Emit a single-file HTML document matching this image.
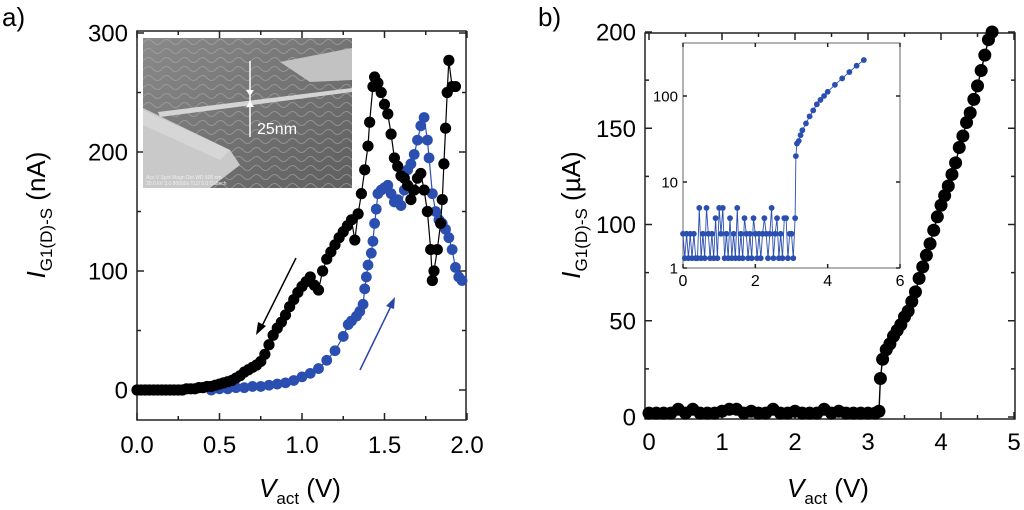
<!DOCTYPE html>
<html><head><meta charset="utf-8"><style>
html,body{margin:0;padding:0;background:#fff}
svg{display:block;font-family:"Liberation Sans",sans-serif}
</style></head><body>
<svg id="fig" width="1024" height="510" viewBox="0 0 1024 510">
<defs>
<linearGradient id="semBg" x1="0" y1="0" x2="1" y2="1"><stop offset="0" stop-color="#8a8a8a"/><stop offset="1" stop-color="#5e5e5e"/></linearGradient>
<pattern id="waves" width="18" height="9" patternUnits="userSpaceOnUse"><path d="M0 6 Q4.5 1 9 6 T18 6" stroke="#aaa" stroke-width="1" fill="none"/></pattern>
</defs>
<text x="2" y="26" font-size="26">a)</text>
<g><rect x="137" y="31" width="329" height="389" fill="none" stroke="#222" stroke-width="1.5"/></g>
<g id="ticksA"></g>
<g id="sem">
<rect x="143" y="38" width="209" height="150" fill="url(#semBg)"/>
<rect x="143" y="38" width="209" height="150" fill="url(#waves)" opacity="0.6"/>
<polygon points="143,108 143,188 210,188 240,165 230,150" fill="#c9c9c9"/>
<polygon points="143,110 230,150 220,160 143,125" fill="#e0e0e0" opacity="0.6"/>
<polygon points="280,62 352,48 352,80 310,82" fill="#c2c2c2"/>
<polygon points="158,112 352,88 352,92 160,117" fill="#d4d4d4"/>
<line x1="250" y1="61" x2="250" y2="137" stroke="#fff" stroke-width="1.5"/>
<polygon points="246,90 254,90 250,96" fill="#fff"/><polygon points="246,107 254,107 250,101" fill="#fff"/>
<text x="257" y="134" font-size="16" fill="#fff">25nm</text>
<text x="146" y="179" font-size="5" fill="#eee">Acc.V  Spot Magn   Det WD          500 nm</text>
<text x="146" y="185" font-size="5" fill="#eee">20.0 kV 3.0  80000x  TLD 5.0  Caltech</text>
</g>
<g id="seriesA"></g>
<line x1="296" y1="258" x2="260" y2="330" stroke="#000" stroke-width="1.5"/>
<polygon points="256,335 258,322 266,326" fill="#000"/>
<line x1="360" y1="370" x2="392" y2="304" stroke="#2b45a8" stroke-width="1.5"/>
<polygon points="395,297 386,306 394,309" fill="#2b45a8"/>
<g transform="translate(45,215) rotate(-90)">
<text x="0" y="0" font-size="26" text-anchor="middle"><tspan font-style="italic">I</tspan><tspan font-size="17" dy="7">G1(D)-S</tspan><tspan dy="-7">  (nA)</tspan></text></g>
<text x="300" y="497" font-size="26" text-anchor="middle"><tspan font-style="italic">V</tspan><tspan font-size="17" dy="7">act</tspan><tspan dy="-7">  (V)</tspan></text>
<text x="538" y="26" font-size="26">b)</text>
<g><rect x="645" y="33" width="370" height="386" fill="none" stroke="#222" stroke-width="1.5"/></g>
<g id="ticksB"></g>
<g id="seriesB"></g>
<rect x="683" y="43" width="217" height="225" fill="#fff" stroke="#666" stroke-width="1"/>
<g id="ticksI"></g>
<g id="seriesI"></g>
<g transform="translate(580,215) rotate(-90)">
<text x="0" y="0" font-size="26" text-anchor="middle"><tspan font-style="italic">I</tspan><tspan font-size="17" dy="7">G1(D)-S</tspan><tspan dy="-7">  (µA)</tspan></text></g>
<text x="828" y="497" font-size="26" text-anchor="middle"><tspan font-style="italic">V</tspan><tspan font-size="17" dy="7">act</tspan><tspan dy="-7">  (V)</tspan></text>
</svg>
<script>
const voltsABack=[0,0.025,0.05,0.075,0.1,0.125,0.15,0.175,0.2,0.225,0.25,0.275,0.3,0.325,0.35,0.375,0.4,0.425,0.45,0.475,0.5,0.525,0.55,0.575,0.6,0.625,0.65,0.675,0.7,0.725,0.75,0.775,0.8,0.825,0.85,0.875,0.9,0.925,0.95,0.975,1.0,1.025,1.05,1.075,1.1,1.125,1.15,1.175,1.2,1.225,1.25,1.275,1.3,1.32,1.34,1.36,1.38,1.40,1.41,1.43,1.44,1.46,1.48,1.50,1.52,1.54,1.56,1.58,1.60,1.62,1.64,1.66,1.68,1.70,1.72,1.74,1.76,1.78,1.79,1.80,1.82,1.84,1.85,1.86,1.87,1.88,1.89,1.91,1.93];
const currentABack=[0,0,0,0,0,0,0,0,0,0,0,0,1,1,1,2,2,3,3,4,5,6,7,8,10,12,15,17,19,21,24,30,38,46,52,57,63,70,76,82,87,91,95,88,84,100,110,116,122,128,133,138,143,126,148,165,185,205,225,255,263,258,250,240,232,215,195,188,180,178,172,160,168,178,182,168,150,118,92,100,118,140,160,190,220,250,277,255,255];
const voltsAFwd=[0.45,0.5,0.55,0.6,0.65,0.7,0.75,0.8,0.85,0.9,0.95,1.0,1.05,1.1,1.15,1.2,1.25,1.28,1.3,1.33,1.35,1.37,1.38,1.39,1.40,1.42,1.43,1.44,1.45,1.46,1.48,1.50,1.52,1.54,1.56,1.58,1.60,1.62,1.64,1.66,1.68,1.70,1.72,1.74,1.76,1.77,1.79,1.81,1.83,1.85,1.87,1.89,1.91,1.93,1.95,1.97];
const currentAFwd=[0,1,1,2,2,3,3,4,5,6,8,11,14,18,25,33,45,55,58,62,66,72,85,95,105,115,125,140,152,165,168,170,172,165,158,160,155,168,185,190,198,210,222,229,210,195,165,150,143,140,135,128,118,103,95,92];
const ticksAx=[0,0.5,1.0,1.5,2.0];
const minorAx=[0.25,0.75,1.25,1.75];
const ticksAy=[0,100,200,300];
const minorAy=[50,150,250];
const voltsB=[0,0.1,0.2,0.3,0.4,0.5,0.6,0.7,0.8,0.9,1.0,1.1,1.2,1.3,1.4,1.5,1.6,1.7,1.8,1.9,2.0,2.1,2.2,2.3,2.4,2.5,2.6,2.7,2.8,2.9,3.0,3.1,3.15,3.17,3.2,3.25,3.3,3.35,3.4,3.45,3.5,3.55,3.6,3.65,3.7,3.75,3.8,3.85,3.9,3.95,4.0,4.05,4.1,4.15,4.2,4.25,4.3,4.35,4.4,4.45,4.5,4.55,4.6,4.65,4.7];
const currentB=[2,2,2,2,4,2,4,2,2,2,3,4,4,2,3,2,2,4,2,2,3,2,2,2,4,2,3,2,2,2,2,2,3,20,30,35,38,42,45,48,52,55,60,65,72,78,84,90,97,104,110,115,120,126,132,140,146,153,158,165,172,180,188,196,200];
const ticksBx=[0,1,2,3,4,5];
const minorBx=[0.5,1.5,2.5,3.5,4.5];
const ticksBy=[0,50,100,150,200];
const minorBy=[25,75,125,175];
const voltsIn=[0,0.05,0.1,0.15,0.2,0.25,0.3,0.35,0.4,0.45,0.5,0.55,0.6,0.65,0.7,0.75,0.8,0.85,0.9,0.95,1.0,1.05,1.1,1.15,1.2,1.25,1.3,1.35,1.4,1.45,1.5,1.55,1.6,1.65,1.7,1.75,1.8,1.85,1.9,1.95,2.0,2.05,2.1,2.15,2.2,2.25,2.3,2.35,2.4,2.45,2.5,2.55,2.6,2.65,2.7,2.75,2.8,2.85,2.9,2.95,3.0,3.05,3.1,3.12,3.15,3.2,3.25,3.3,3.4,3.5,3.6,3.7,3.8,3.9,4.0,4.2,4.4,4.6,4.8,5.0];
const currentIn=[2.5,1.3,2.5,1.3,2.5,1.3,2.5,1.3,1.3,5,1.3,2.5,1.3,5,2.5,1.3,2.5,1.3,3.8,1.3,5,2.5,5,1.3,2.5,1.3,3.8,1.3,2.5,1.3,5,1.3,2.5,1.3,3.8,2.5,1.3,2.5,1.3,3.8,2.5,1.3,2.5,1.3,2.5,3.8,2.5,1.3,2.5,5,1.3,2.5,3.8,1.3,2.5,1.3,3.8,3.8,1.3,2.5,2.5,1.3,3.8,20,28,30,35,40,48,58,68,80,90,100,112,135,160,190,225,262];
const ticksIx=[0,2,4,6];
const ticksIy=[1,10,100];

const NS="http://www.w3.org/2000/svg";
const xa=v=>137+v*165, ya=i=>390-i*1.19;
const xb=v=>649+v*73, yb=i=>417-i*1.925;
const xi=v=>683+v*36.17, yi=i=>268-Math.log10(i)*86;
function mk(tag,attrs,parent){const e=document.createElementNS(NS,tag);for(const k in attrs)e.setAttribute(k,attrs[k]);parent.appendChild(e);return e;}
function series(g,xs,ys,fx,fy,color,r,lw,name){
  const d=xs.map((v,k)=>(k?'L':'M')+fx(v).toFixed(1)+' '+fy(ys[k]).toFixed(1)).join('');
  const p=mk('path',{d:d,fill:'none',stroke:color,'stroke-width':lw},g);
  
  
  xs.forEach((v,k)=>{const c=mk('circle',{cx:fx(v),cy:fy(ys[k]),r:r,fill:color},g);
    
    });
}
function ticks(g,vals,f,axis,lo,hi,len,fs,labOff,fmt){
  vals.forEach(v=>{const p=f(v);
    if(axis==='x'){mk('line',{x1:p,x2:p,y1:hi,y2:hi-len,stroke:'#222','stroke-width':1.5},g);mk('line',{x1:p,x2:p,y1:lo,y2:lo+len,stroke:'#222','stroke-width':1.5},g);
      if(fmt){const t=mk('text',{x:p,y:hi+labOff,'font-size':fs,'text-anchor':'middle'},g);t.textContent=fmt(v);
      
      }}
    else{mk('line',{x1:lo,x2:lo+len,y1:p,y2:p,stroke:'#222','stroke-width':1.5},g);mk('line',{x1:hi,x2:hi-len,y1:p,y2:p,stroke:'#222','stroke-width':1.5},g);
      if(fmt){const t=mk('text',{x:lo-labOff,y:p+fs*0.36,'font-size':fs,'text-anchor':'end'},g);t.textContent=fmt(v);
      
      }}
  });
}
const tA=document.getElementById('ticksA');
ticks(tA,ticksAx,xa,'x',31,420,7,24,33,v=>v.toFixed(1));
ticks(tA,minorAx,xa,'x',31,420,4,24,0,null);
ticks(tA,ticksAy,ya,'y',137,466,7,24,9,v=>String(v));
ticks(tA,minorAy,ya,'y',137,466,4,24,0,null);
const tB=document.getElementById('ticksB');
ticks(tB,ticksBx,xb,'x',33,419,7,24,31,v=>String(v));
ticks(tB,minorBx,xb,'x',33,419,4,24,0,null);
ticks(tB,ticksBy,yb,'y',645,1015,7,24,9,v=>String(v));
ticks(tB,minorBy,yb,'y',645,1015,4,24,0,null);
const tI=document.getElementById('ticksI');
ticks(tI,ticksIx,xi,'x',43,268,4,16,18,v=>String(v));
ticks(tI,ticksIy,yi,'y',683,900,4,15,5,v=>String(v));
series(document.getElementById('seriesA'),voltsAFwd,currentAFwd,xa,ya,'#2b4fb0',5.4,1.2,'forward-sweep');
series(document.getElementById('seriesA'),voltsABack,currentABack,xa,ya,'#000',5.6,1.2,'backward-sweep');
series(document.getElementById('seriesB'),voltsB,currentB,xb,yb,'#000',6.5,1.4,'main-current');
series(document.getElementById('seriesI'),voltsIn,currentIn,xi,yi,'#2b4fb0',2.9,0.9,'inset-log-current');
</script>
</body></html>
